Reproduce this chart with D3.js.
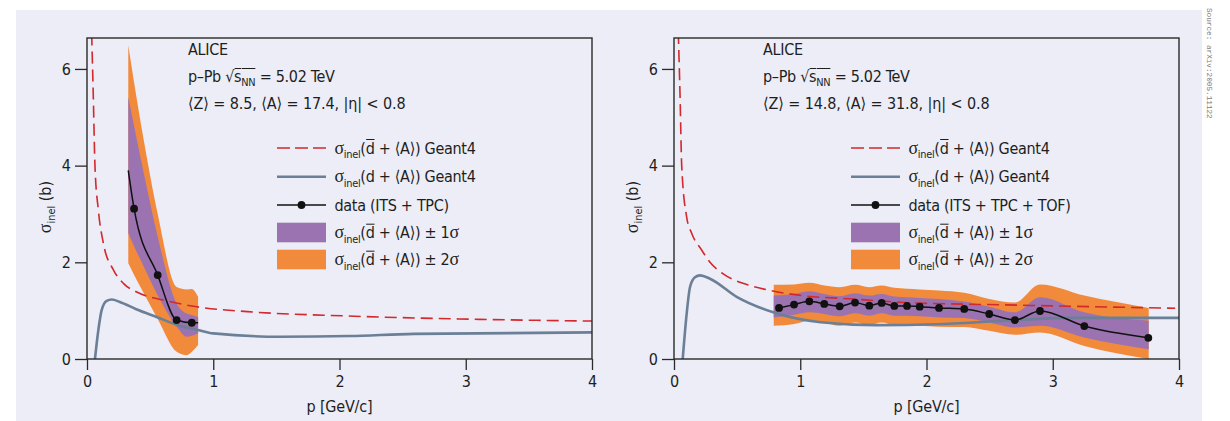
<!DOCTYPE html>
<html><head><meta charset="utf-8">
<script src="https://cdn.jsdelivr.net/npm/d3@7"></script>
<style>
body{margin:0;background:#fff;}
svg{display:block;}
text{font-family:"Liberation Sans Narrow","Arial Narrow","DejaVu Sans Condensed",sans-serif;fill:#1e1e1e;}
.sig{font-family:"Liberation Serif","DejaVu Serif",serif;}
</style></head><body>
<svg id="c" width="1230" height="421"></svg>
<script>
// ---------- data ----------
const xTicks = [0, 1, 2, 3, 4];
const yTicks = [0, 2, 4, 6];

// Left panel (ITS + TPC)
const redL_p  = [0.037, 0.05, 0.063, 0.09, 0.13, 0.21, 0.29, 0.39, 0.605, 0.87, 1.27, 2.06, 3.11, 4.0];
const redL_v  = [6.73, 5.42, 4.0, 3.08, 2.39, 1.84, 1.56, 1.39, 1.22, 1.08, 0.98, 0.89, 0.82, 0.785];
const blueL_p = [0.063, 0.09, 0.116, 0.156, 0.196, 0.26, 0.39, 0.56, 0.72, 0.88, 1.0, 1.53, 2.08, 2.59, 4.0];
const blueL_v = [0, 0.6, 1.01, 1.2, 1.23, 1.18, 1.03, 0.86, 0.7, 0.6, 0.53, 0.46, 0.475, 0.52, 0.55];
const dataL_p = [0.373, 0.56, 0.71, 0.83];
const dataL_v = [3.11, 1.735, 0.806, 0.75];
const lineL_p = [0.327, 0.373, 0.56, 0.71, 0.83, 0.88];
const lineL_v = [3.9, 3.11, 1.735, 0.806, 0.75, 0.75];
const bandL_p  = [0.327, 0.373, 0.45, 0.56, 0.71, 0.79, 0.83, 0.88];
const bandL_u2 = [6.49, 5.72, 4.52, 3.0, 1.49, 1.44, 1.45, 1.29];
const bandL_u1 = [5.42, 4.82, 3.84, 2.53, 1.15, 0.94, 0.91, 0.87];
const bandL_l1 = [2.6, 2.33, 1.91, 1.32, 0.67, 0.46, 0.48, 0.53];
const bandL_l2 = [1.98, 1.74, 1.36, 0.83, 0.15, 0.08, 0.15, 0.29];

// Right panel (ITS + TPC + TOF)
const redR_p  = [0.034, 0.048, 0.061, 0.10, 0.14, 0.22, 0.285, 0.39, 0.576, 0.76, 1.02, 1.42, 1.82, 2.61, 3.97];
const redR_v  = [6.76, 5.44, 4.0, 2.94, 2.6, 2.25, 2.0, 1.76, 1.54, 1.42, 1.31, 1.24, 1.17, 1.12, 1.05];
const blueR_p = [0.069, 0.1, 0.127, 0.166, 0.206, 0.285, 0.5, 0.78, 1.16, 1.6, 2.08, 2.61, 3.14, 4.0];
const blueR_v = [0, 0.93, 1.49, 1.69, 1.73, 1.66, 1.28, 0.97, 0.76, 0.70, 0.72, 0.79, 0.85, 0.85];
const dataR_p = [0.832, 0.951, 1.072, 1.19, 1.312, 1.434, 1.547, 1.645, 1.745, 1.846, 1.946, 2.099, 2.299, 2.497, 2.70, 2.899, 3.25, 3.757];
const dataR_v = [1.056, 1.125, 1.194, 1.139, 1.09, 1.167, 1.104, 1.16, 1.098, 1.098, 1.083, 1.056, 1.035, 0.931, 0.806, 0.993, 0.681, 0.4375];
const bandR_p  = [0.79, 0.951, 1.072, 1.19, 1.312, 1.434, 1.547, 1.645, 1.745, 1.846, 1.946, 2.099, 2.299, 2.497, 2.70, 2.899, 3.25, 3.76];
const bandR_u2 = [1.535, 1.542, 1.576, 1.521, 1.486, 1.535, 1.486, 1.521, 1.472, 1.451, 1.4375, 1.417, 1.37, 1.243, 1.17, 1.542, 1.3125, 1.056];
const bandR_u1 = [1.3125, 1.347, 1.403, 1.347, 1.299, 1.361, 1.3125, 1.347, 1.292, 1.278, 1.264, 1.243, 1.19, 1.083, 0.965, 1.278, 0.965, 0.792];
const bandR_l1 = [0.861, 0.917, 0.965, 0.931, 0.882, 0.944, 0.896, 0.944, 0.896, 0.896, 0.882, 0.861, 0.85, 0.757, 0.653, 0.6875, 0.444, 0.201];
const bandR_l2 = [0.6875, 0.722, 0.792, 0.757, 0.6875, 0.757, 0.708, 0.757, 0.708, 0.708, 0.6875, 0.667, 0.66, 0.583, 0.5, 0.549, 0.271, 0.0];

const infoL = ["ALICE", "8.5", "17.4", "data (ITS + TPC)"];
const infoR = ["ALICE", "14.8", "31.8", "data (ITS + TPC + TOF)"];

// ---------- drawing ----------
const C = {bg:"#ecedf6", orange:"#f28a3c", purple:"#9b73b1", red:"#d3282c", blue:"#6b7f97", frame:"#2a2a2a"};
const svg = d3.select("#c");
svg.append("rect").attr("x",16).attr("y",10).attr("width",1186).attr("height",411).attr("fill",C.bg);
svg.append("text").attr("transform","translate(1207,8) rotate(90)")
  .style("font-family","'Liberation Mono','DejaVu Sans Mono',monospace").style("font-size","7.7px").style("fill","#7a7a7a")
  .text("Source: arXiv:2005.11122");

const zip = (a,b) => a.map((v,i)=>[v,b[i]]);

function rich(parent, x, y, segs, size, ls) {
  const t = parent.append("text").attr("x",x).attr("y",y).style("font-size",size+"px");
  if (ls) t.style("letter-spacing", ls+"px");
  let idx = 0; const bars = [];
  let shift = 0;
  segs.forEach(s => {
    const sp = t.append("tspan").text(s.t);
    if (s.sig) sp.attr("class","sig").style("font-size",(size*1.12)+"px");
    const want = s.sub ? 0.28*size : 0;
    if (want !== shift) { sp.attr("dy", want - shift); shift = want; }
    if (s.sub) sp.style("font-size",(size*0.68)+"px");
    if (s.bar) bars.push([idx, idx + s.t.length - 1, s.barH || 13]);
    idx += s.t.length;
  });
  const node = t.node();
  bars.forEach(([a,b,h]) => {
    const x0 = node.getStartPositionOfChar(a).x, x1 = node.getEndPositionOfChar(b).x;
    parent.append("line").attr("x1",x0+0.5).attr("x2",x1).attr("y1",y-h).attr("y2",y-h)
      .attr("stroke","#1e1e1e").attr("stroke-width",1);
  });
  return t;
}

const SIG = [{t:"σ",sig:true},{t:"inel",sub:true}];
function sigAbar(tail) {
  return SIG.concat([{t:"("},{t:"d",bar:true,barH:14},{t:" + ⟨A⟩)"}]).concat(tail);
}

function panel(o) {
  const g = svg.append("g");
  const x = d3.scaleLinear().domain([0,4]).range([o.x0, o.x1]);
  const y = d3.scaleLinear().domain([0,6.64]).range([359, 38]);
  const cid = "clip"+o.x0;
  g.append("clipPath").attr("id",cid).append("rect")
    .attr("x",o.x0).attr("y",38).attr("width",o.x1-o.x0).attr("height",321);
  const pg = g.append("g").attr("clip-path",`url(#${cid})`);
  const area = (lo,hi) => d3.area().curve(d3.curveMonotoneX)
    .x((d,i)=>x(o.bp[i])).y0((d,i)=>y(lo[i])).y1((d,i)=>y(hi[i]));
  pg.append("path").datum(o.bp).attr("d", area(o.l2,o.u2)).attr("fill",C.orange);
  pg.append("path").datum(o.bp).attr("d", area(o.l1,o.u1)).attr("fill",C.purple);
  const line = d3.line().curve(d3.curveMonotoneX).x(d=>x(d[0])).y(d=>y(d[1]));
  pg.append("path").datum(zip(o.blueP,o.blueV)).attr("d",line).attr("fill","none")
    .attr("stroke",C.blue).attr("stroke-width",2.6);
  pg.append("path").datum(zip(o.redP,o.redV)).attr("d",line).attr("fill","none")
    .attr("stroke",C.red).attr("stroke-width",1.6).attr("stroke-dasharray","12,6");
  pg.append("path").datum(zip(o.lineP,o.lineV)).attr("d",line).attr("fill","none")
    .attr("stroke","#111").attr("stroke-width",1.5);
  pg.selectAll("circle").data(zip(o.dataP,o.dataV)).join("circle")
    .attr("cx",d=>x(d[0])).attr("cy",d=>y(d[1])).attr("r",3.9).attr("fill","#111");

  g.append("rect").attr("x",o.x0).attr("y",38).attr("width",o.x1-o.x0).attr("height",321)
    .attr("fill","none").attr("stroke",C.frame).attr("stroke-width",1.4);
  const ax = g.append("g").attr("transform",`translate(0,359)`)
    .call(d3.axisBottom(x).tickValues(xTicks).tickSize(11).tickPadding(6).tickFormat(d3.format("d")));
  const ay = g.append("g").attr("transform",`translate(${o.x0},0)`)
    .call(d3.axisLeft(y).tickValues(yTicks).tickSize(12).tickPadding(4).tickFormat(d3.format("d")));
  [ax,ay].forEach(a=>{
    a.select(".domain").remove();
    a.selectAll("line").attr("stroke",C.frame).attr("stroke-width",1.3);
    a.selectAll("text").style("font-size","16px").style("font-family",null).attr("fill","#1e1e1e");
  });
  g.append("text").attr("x",(o.x0+o.x1)/2).attr("y",412).attr("text-anchor","middle")
    .style("font-size","16px").style("letter-spacing","-0.2px").text("p [GeV/c]");
  const yl = g.append("g").attr("transform",`translate(${o.x0-36},${207}) rotate(-90)`);
  const ylt = rich(yl, 0, 0, SIG.concat([{t:" (b)"}]), 16);
  ylt.attr("text-anchor","middle");

  // header text
  const tx = o.x0 + o.tx;
  rich(g, tx, 55, [{t:o.info[0]}], 16, -0.3);
  rich(g, tx, 82, [{t:"p–Pb √"},{t:"s",bar:true,barH:13.5},{t:"NN",sub:true,bar:true,barH:13.5},{t:" = 5.02 TeV"}], 16, -0.3);
  rich(g, tx, 109, [{t:`⟨Z⟩ = ${o.info[1]}, ⟨A⟩ = ${o.info[2]}, |η| < 0.8`}], 16, -0.1);

  // legend
  const lx0 = o.x0 + o.lx, lx1 = lx0 + 49, ltx = lx1 + 8.5;
  const rows = [148, 176.7, 205, 232.7, 259.7];
  g.append("line").attr("x1",lx0).attr("x2",lx1).attr("y1",rows[0]).attr("y2",rows[0])
    .attr("stroke",C.red).attr("stroke-width",1.6).attr("stroke-dasharray","13,5");
  g.append("line").attr("x1",lx0).attr("x2",lx1).attr("y1",rows[1]).attr("y2",rows[1])
    .attr("stroke",C.blue).attr("stroke-width",2.6);
  g.append("line").attr("x1",lx0).attr("x2",lx1).attr("y1",rows[2]).attr("y2",rows[2])
    .attr("stroke","#111").attr("stroke-width",1.5);
  g.append("circle").attr("cx",(lx0+lx1)/2).attr("cy",rows[2]).attr("r",3.9).attr("fill","#111");
  g.append("rect").attr("x",lx0).attr("y",rows[3]-10).attr("width",49).attr("height",19.6).attr("fill",C.purple);
  g.append("rect").attr("x",lx0).attr("y",rows[4]-10).attr("width",49).attr("height",19.6).attr("fill",C.orange);
  const b = 5.5, ls = -0.3;
  rich(g, ltx, rows[0]+b, sigAbar([{t:" Geant4"}]), 16, ls);
  rich(g, ltx, rows[1]+b, SIG.concat([{t:"(d + ⟨A⟩) Geant4"}]), 16, ls);
  rich(g, ltx, rows[2]+b, [{t:o.info[3]}], 16, ls);
  rich(g, ltx, rows[3]+b, sigAbar([{t:" ± 1"},{t:"σ",sig:true}]), 16, ls);
  rich(g, ltx, rows[4]+b, sigAbar([{t:" ± 2"},{t:"σ",sig:true}]), 16, ls);
}

panel({x0:87, x1:592, tx:101, lx:190, info:infoL,
  redP:redL_p, redV:redL_v, blueP:blueL_p, blueV:blueL_v,
  dataP:dataL_p, dataV:dataL_v, lineP:lineL_p, lineV:lineL_v,
  bp:bandL_p, u2:bandL_u2, u1:bandL_u1, l1:bandL_l1, l2:bandL_l2});
panel({x0:674, x1:1179, tx:89, lx:177, info:infoR,
  redP:redR_p, redV:redR_v, blueP:blueR_p, blueV:blueR_v,
  dataP:dataR_p, dataV:dataR_v, lineP:dataR_p, lineV:dataR_v,
  bp:bandR_p, u2:bandR_u2, u1:bandR_u1, l1:bandR_l1, l2:bandR_l2});
</script>
</body></html>
